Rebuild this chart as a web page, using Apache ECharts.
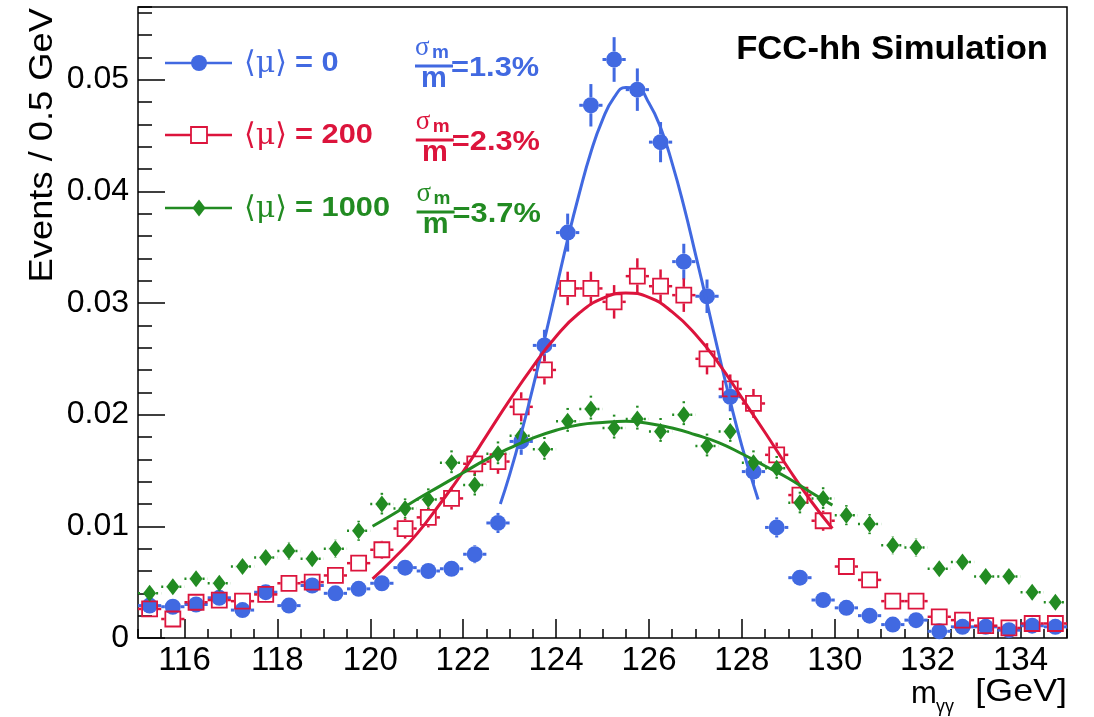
<!DOCTYPE html>
<html>
<head>
<meta charset="utf-8">
<script src="https://cdn.jsdelivr.net/npm/echarts@6/dist/echarts.min.js"></script>
<style>
  html, body { margin: 0; padding: 0; background: #fff; }
  #chart { width: 1094px; height: 717px; }
</style>
</head>
<body>
<div id="chart"></div>
<script>
// Diphoton invariant mass, 0.5 GeV bins between 115 and 135 GeV
const binCenters = [
  115.25, 115.75, 116.25, 116.75, 117.25, 117.75, 118.25, 118.75, 119.25, 119.75,
  120.25, 120.75, 121.25, 121.75, 122.25, 122.75, 123.25, 123.75, 124.25, 124.75,
  125.25, 125.75, 126.25, 126.75, 127.25, 127.75, 128.25, 128.75, 129.25, 129.75,
  130.25, 130.75, 131.25, 131.75, 132.25, 132.75, 133.25, 133.75, 134.25, 134.75
];

// <mu> = 0
const mu0Values = [
  0.0029, 0.0028, 0.0030, 0.0036, 0.0025, 0.0041, 0.0029, 0.0047, 0.0040, 0.0044,
  0.0049, 0.0063, 0.0060, 0.0062, 0.0075, 0.0103, 0.0176, 0.0262, 0.0363, 0.0477,
  0.0518, 0.0491, 0.0444, 0.0337, 0.0306, 0.0216, 0.0149, 0.0099, 0.0054, 0.0034,
  0.0027, 0.0020, 0.0012, 0.0016, 0.0006, 0.0010, 0.0010, 0.0007, 0.0011, 0.0010
];
const mu0Errors = [
  0.0005, 0.0005, 0.0005, 0.0005, 0.0004, 0.0006, 0.0005, 0.0006, 0.0006, 0.0006,
  0.0006, 0.0007, 0.0007, 0.0007, 0.0008, 0.0009, 0.0012, 0.0014, 0.0017, 0.0019,
  0.0020, 0.0019, 0.0018, 0.0016, 0.0015, 0.0013, 0.0011, 0.0009, 0.0006, 0.0005,
  0.0005, 0.0004, 0.0003, 0.0003, 0.0002, 0.0003, 0.0003, 0.0002, 0.0003, 0.0003
];

// <mu> = 200
const mu200Values = [
  0.0026, 0.0017, 0.0032, 0.0034, 0.0033, 0.0039, 0.0049, 0.0050, 0.0056, 0.0067,
  0.0079, 0.0098, 0.0108, 0.0125, 0.0156, 0.0158, 0.0207, 0.0240, 0.0313, 0.0313,
  0.0301, 0.0324, 0.0315, 0.0307, 0.0250, 0.0223, 0.0210, 0.0164, 0.0128, 0.0105,
  0.0064, 0.0052, 0.0033, 0.0033, 0.0019, 0.0016, 0.0011, 0.0009, 0.0013, 0.0013
];
const mu200Errors = [
  0.0004, 0.0004, 0.0005, 0.0005, 0.0005, 0.0005, 0.0006, 0.0006, 0.0007, 0.0007,
  0.0008, 0.0009, 0.0009, 0.0010, 0.0011, 0.0011, 0.0013, 0.0013, 0.0015, 0.0015,
  0.0015, 0.0016, 0.0015, 0.0015, 0.0014, 0.0013, 0.0013, 0.0011, 0.0010, 0.0009,
  0.0007, 0.0006, 0.0005, 0.0005, 0.0004, 0.0003, 0.0003, 0.0003, 0.0003, 0.0003
];

// <mu> = 1000
const mu1000Values = [
  0.0040, 0.0046, 0.0053, 0.0049, 0.0064, 0.0072, 0.0078, 0.0071, 0.0080, 0.0096,
  0.0120, 0.0116, 0.0124, 0.0157, 0.0137, 0.0165, 0.0181, 0.0169, 0.0194, 0.0205,
  0.0188, 0.0196, 0.0185, 0.0200, 0.0172, 0.0185, 0.0157, 0.0152, 0.0121, 0.0125,
  0.0110, 0.0102, 0.0083, 0.0081, 0.0062, 0.0068, 0.0055, 0.0055, 0.0041, 0.0032
];
const mu1000Errors = [
  0.0006, 0.0006, 0.0006, 0.0006, 0.0007, 0.0007, 0.0008, 0.0007, 0.0008, 0.0009,
  0.0010, 0.0009, 0.0010, 0.0011, 0.0010, 0.0011, 0.0012, 0.0011, 0.0012, 0.0012,
  0.0012, 0.0012, 0.0012, 0.0012, 0.0011, 0.0012, 0.0011, 0.0011, 0.0010, 0.0010,
  0.0009, 0.0009, 0.0008, 0.0008, 0.0007, 0.0007, 0.0006, 0.0006, 0.0006, 0.0005
];

// Fitted signal shapes
const fit0X = [122.8, 123.0, 123.25, 123.5, 123.75, 124.0, 124.25, 124.5, 124.75, 125.0, 125.25, 125.5,
  125.75, 126.0, 126.25, 126.5, 126.75, 127.0, 127.25, 127.5, 127.75, 128.0, 128.2, 128.35];
const fit0Y = [0.0120, 0.0146, 0.0183, 0.0224, 0.0267, 0.0312, 0.0357, 0.0398, 0.0435, 0.0464, 0.0484, 0.0493,
  0.0492, 0.0479, 0.0457, 0.0425, 0.0387, 0.0344, 0.0300, 0.0255, 0.0212, 0.0172, 0.0144, 0.0124];

const fit200X = [120.05, 120.5, 121.0, 121.5, 122.0, 122.5, 123.0, 123.5, 124.0, 124.5, 125.0,
  125.5, 126.0, 126.5, 127.0, 127.5, 128.0, 128.5, 129.0, 129.5, 129.95];
const fit200Y = [0.0053, 0.0071, 0.0093, 0.0120, 0.0149, 0.0181, 0.0213, 0.0243, 0.0270, 0.0291, 0.0304,
  0.0309, 0.0305, 0.0292, 0.0272, 0.0246, 0.0215, 0.0184, 0.0152, 0.0122, 0.0098];

const fit1000X = [120.05, 120.5, 121.0, 121.5, 122.0, 122.5, 123.0, 123.5, 124.0, 124.5, 125.0,
  125.5, 126.0, 126.5, 127.0, 127.5, 128.0, 128.5, 129.0, 129.5, 129.95];
const fit1000Y = [0.0100, 0.0111, 0.0124, 0.0136, 0.0148, 0.0160, 0.0170, 0.0179, 0.0186, 0.0191, 0.0193,
  0.0194, 0.0192, 0.0188, 0.0182, 0.0175, 0.0165, 0.0154, 0.0143, 0.0130, 0.0119];

// Text
const pileupLabels = ['0', '200', '1000'];
const resolutions = ['1.3%', '2.3%', '3.7%'];
const yTitle = 'Events / 0.5 GeV';
const tagText = 'FCC-hh Simulation';

const BLUE = '#4169E1';
const RED = '#DC143C';
const GREEN = '#228B22';
const colors = [BLUE, RED, GREEN];
const BIN_HALF_WIDTH = 0.25;

const SANS = '"Liberation Sans", Arial, Helvetica, sans-serif';
const SERIF = '"DejaVu Serif", "Liberation Serif", serif';

function triples(values, errors) {
  return binCenters.map((x, i) => [x, values[i], errors[i]]);
}
function pairs(xs, ys) {
  return xs.map((x, i) => [x, ys[i]]);
}

// Error bars drawn outside the marker, as in a ROOT "E" plot
function errorBarRenderer(color, width, dash, halfW, halfH) {
  return function (params, api) {
    const x = api.value(0), y = api.value(1), e = api.value(2);
    const c = api.coord([x, y]);
    const xl = api.coord([x - BIN_HALF_WIDTH, y])[0];
    const xr = api.coord([x + BIN_HALF_WIDTH, y])[0];
    const yt = api.coord([x, y + e])[1];
    const yb = api.coord([x, y - e])[1];
    const segs = [];
    if (c[0] - halfW > xl) segs.push([xl, c[1], c[0] - halfW, c[1]]);
    if (xr > c[0] + halfW) segs.push([c[0] + halfW, c[1], xr, c[1]]);
    if (c[1] - halfH > yt) segs.push([c[0], yt, c[0], c[1] - halfH]);
    if (yb > c[1] + halfH) segs.push([c[0], c[1] + halfH, c[0], yb]);
    return {
      type: 'group',
      children: segs.map(s => ({
        type: 'line',
        shape: { x1: s[0], y1: s[1], x2: s[2], y2: s[3] },
        style: { stroke: color, lineWidth: width, lineDash: dash, lineCap: 'butt' }
      }))
    };
  };
}

function errorSeries(values, errors, color, width, dash, halfW, halfH) {
  return {
    type: 'custom',
    data: triples(values, errors),
    encode: { x: 0, y: 1 },
    renderItem: errorBarRenderer(color, width, dash, halfW, halfH),
    clip: true,
    silent: true
  };
}

function markerSeries(values, symbol, size, itemStyle) {
  return {
    type: 'scatter',
    data: pairs(binCenters, values),
    symbol: symbol,
    symbolSize: size,
    itemStyle: Object.assign({ opacity: 1 }, itemStyle),
    silent: true
  };
}

function fitSeries(xs, ys, color) {
  return {
    type: 'line',
    data: pairs(xs, ys),
    smooth: true,
    symbol: 'none',
    lineStyle: { color: color, width: 3 },
    silent: true
  };
}

// Legend, resolution labels and titles
function textEl(x, y, text, font, fill, align, extra) {
  return Object.assign({
    type: 'text', x: x, y: y,
    style: {
      text: text, font: font, fill: fill,
      textAlign: align, align: align,
      textVerticalAlign: 'middle', verticalAlign: 'middle'
    },
    silent: true
  }, extra || {});
}

const graphics = [];
const rowY = [63, 135, 208];
const fracY = [66, 140, 212];
for (let i = 0; i < 3; i++) {
  const y = rowY[i], c = colors[i];
  graphics.push({ type: 'line', shape: { x1: 165, y1: y, x2: 232, y2: y },
    style: { stroke: c, lineWidth: 2.5 }, silent: true, z: 10 });
  if (i === 0) {
    graphics.push({ type: 'circle', shape: { cx: 199, cy: y, r: 8 }, style: { fill: c }, silent: true, z: 11 });
  } else if (i === 1) {
    graphics.push({ type: 'rect', shape: { x: 191, y: y - 8, width: 16, height: 16 },
      style: { fill: '#fff', stroke: c, lineWidth: 1.8 }, silent: true, z: 11 });
  } else {
    graphics.push({ type: 'polygon', shape: { points: [[199, y - 8.5], [205.5, y], [199, y + 8.5], [192.5, y]] },
      style: { fill: c }, silent: true, z: 11 });
  }
  graphics.push(textEl(244, y + 1, '\u27E8\u03BC\u27E9', '30px ' + SERIF, c, 'left', { z: 11 }));
  graphics.push(textEl(295, y, '= ' + pileupLabels[i], 'bold 28px ' + SANS, c, 'left', { z: 11, scaleX: 1.1 }));

  const fy = fracY[i];
  const fx = 415 + i * 0.8;
  graphics.push(textEl(fx, fy - 18, '\u03C3', '27px "Liberation Serif", serif', c, 'left', { z: 11 }));
  graphics.push(textEl(fx + 17, fy - 13, 'm', 'bold 19px ' + SANS, c, 'left', { z: 11 }));
  graphics.push({ type: 'rect', shape: { x: fx, y: fy - 1.5, width: 38, height: 3 }, style: { fill: c }, silent: true, z: 11 });
  graphics.push(textEl(fx + 19, fy + 13, 'm', 'bold 29px ' + SANS, c, 'center', { z: 11 }));
  graphics.push(textEl(fx + 36, fy + 2, '=' + resolutions[i], 'bold 28px ' + SANS, c, 'left', { z: 11, scaleX: 1.1 }));
}

graphics.push(textEl(1048, 50, tagText, 'bold 33px ' + SANS, '#000', 'right', { z: 11, scaleX: 1.05 }));

graphics.push(textEl(43, 8, yTitle, '33px ' + SANS, '#000', 'right', { rotation: Math.PI / 2, scaleX: 1.1 }));

// x-axis title: m with a gamma-gamma subscript, then the unit
graphics.push(textEl(1067, 692, '[GeV]', '32px ' + SANS, '#000', 'right', { scaleX: 1.12 }));
graphics.push(textEl(911, 694, 'm', '31px ' + SANS, '#000', 'left'));
graphics.push(textEl(936, 707, '\u03B3\u03B3', '18px ' + SANS, '#000', 'left'));

const option = {
  backgroundColor: '#fff',
  animation: false,
  grid: {
    left: 138, right: 27, top: 7, bottom: 79,
    show: true, borderColor: '#000', borderWidth: 1.5, backgroundColor: '#fff'
  },
  xAxis: [
    {
      type: 'value', min: 115, max: 135, splitNumber: 10, position: 'bottom',
      axisLine: { show: false },
      axisTick: { inside: true, length: 19, lineStyle: { color: '#000', width: 1.5 } },
      axisLabel: { color: '#000', fontSize: 33, fontFamily: SANS, margin: 6, showMinLabel: false, showMaxLabel: false },
      splitLine: { show: false }
    },
    {
      type: 'value', min: 115, max: 135, interval: 0.5, position: 'bottom',
      axisLine: { show: false },
      axisTick: { inside: true, length: 9, lineStyle: { color: '#000', width: 1.5 } },
      axisLabel: { show: false },
      splitLine: { show: false }
    }
  ],
  yAxis: [
    {
      type: 'value', min: 0, max: 0.0565, interval: 0.01, position: 'left',
      axisLine: { show: false },
      axisTick: { inside: true, length: 27, lineStyle: { color: '#000', width: 1.5 } },
      axisLabel: { color: '#000', fontSize: 32, fontFamily: SANS, margin: 9, showMaxLabel: false },
      splitLine: { show: false }
    },
    {
      type: 'value', min: 0, max: 0.0565, interval: 0.002, position: 'left',
      axisLine: { show: false },
      axisTick: { inside: true, length: 14, lineStyle: { color: '#000', width: 1.5 } },
      axisLabel: { show: false },
      splitLine: { show: false }
    }
  ],
  series: [
    errorSeries(mu0Values, mu0Errors, BLUE, 3, null, 8, 8),
    markerSeries(mu0Values, 'circle', 16, { color: BLUE }),
    errorSeries(mu200Values, mu200Errors, RED, 2.5, null, 8.3, 8.3),
    markerSeries(mu200Values, 'rect', 15, { color: 'rgba(0,0,0,0)', borderColor: RED, borderWidth: 1.8 }),
    errorSeries(mu1000Values, mu1000Errors, GREEN, 2.5, [2, 3], 6.5, 8.5),
    markerSeries(mu1000Values, 'diamond', [13, 17], { color: GREEN }),
    fitSeries(fit0X, fit0Y, BLUE),
    fitSeries(fit200X, fit200Y, RED),
    fitSeries(fit1000X, fit1000Y, GREEN)
  ],
  graphic: { elements: graphics }
};

const chart = echarts.init(document.getElementById('chart'));
chart.setOption(option);
</script>
</body>
</html>
